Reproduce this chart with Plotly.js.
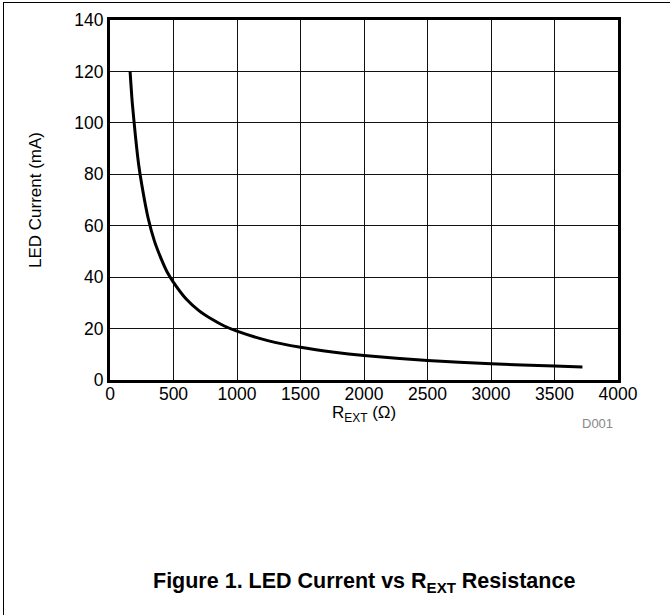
<!DOCTYPE html>
<html>
<head>
<meta charset="utf-8">
<script src="https://cdn.plot.ly/plotly-3.0.1.min.js"></script>
<style>
html,body{margin:0;padding:0;background:#fff;}
#wrap{position:relative;width:670px;height:615px;overflow:hidden;}
#chart{position:absolute;left:0;top:0;width:670px;height:615px;}
#frame{position:absolute;left:3px;top:2px;width:700px;height:700px;border-left:1.5px solid #000;border-top:1.5px solid #000;pointer-events:none;}
</style>
</head>
<body>
<div id="wrap"><div id="chart"></div><div id="frame"></div></div>
<script>
// R_EXT resistance (ohm)
const rext = [158, 175, 200, 225, 250, 300, 350, 400, 450, 500, 600, 700, 800, 900, 1000, 1250, 1500, 1750, 2000, 2500, 3000, 3500, 3720];
// LED current (mA)
const ledCurrent = [120, 108, 95, 84, 76, 63, 54, 47.5, 42, 38, 31.5, 27, 23.7, 21, 19, 15.2, 12.7, 10.9, 9.5, 7.6, 6.3, 5.4, 5.1];
const xTicks = [0, 500, 1000, 1500, 2000, 2500, 3000, 3500, 4000];
const yTicks = [0, 20, 40, 60, 80, 100, 120, 140];

const font = 'Liberation Sans, Arial, sans-serif';
const trace = {
  x: rext, y: ledCurrent, type: 'scatter', mode: 'lines',
  line: {color: '#000', width: 3, shape: 'spline', smoothing: 0.6},
  hoverinfo: 'skip'
};
const layout = {
  width: 670, height: 615,
  margin: {l: 110, r: 52, t: 20, b: 235},
  paper_bgcolor: '#fff', plot_bgcolor: '#fff',
  showlegend: false,
  font: {family: font, size: 17, color: '#000'},
  xaxis: {
    range: [0, 4000], tickvals: xTicks, ticktext: xTicks.map(String),
    showgrid: true, gridcolor: '#111', gridwidth: 1,
    showline: true, linecolor: '#000', linewidth: 3, mirror: true,
    ticks: '', ticklen: 0, ticklabelstandoff: -4, zeroline: false, fixedrange: true,
    tickfont: {family: font, size: 17.5, color: '#000'}
  },
  yaxis: {
    range: [0, 140], tickvals: yTicks, ticktext: yTicks.map(String),
    showgrid: true, gridcolor: '#111', gridwidth: 1,
    showline: true, linecolor: '#000', linewidth: 3, mirror: true,
    ticks: '', ticklen: 0, zeroline: false, fixedrange: true,
    tickfont: {family: font, size: 17.5, color: '#000'},
    title: {text: 'LED Current (mA)', font: {family: font, size: 17, color: '#000'}, standoff: 29}
  },
  annotations: [
    {text: 'R<sub>EXT</sub> (Ω)', xref: 'paper', yref: 'paper', x: 0.5, y: -0.094, xanchor: 'center', yanchor: 'middle', showarrow: false,
     font: {family: font, size: 17, color: '#000'}},
    {text: 'D001', xref: 'paper', yref: 'paper', x: 0.96, y: -0.122, xanchor: 'center', yanchor: 'middle', showarrow: false,
     font: {family: font, size: 13, color: '#888'}},
    {text: '<b>Figure 1. LED Current vs R<sub>EXT</sub> Resistance</b>', xref: 'paper', yref: 'paper', x: 0.5, y: -0.562,
     xanchor: 'center', yanchor: 'middle', showarrow: false, font: {family: font, size: 21.5, color: '#000'}}
  ]
};
Plotly.newPlot('chart', [trace], layout, {displayModeBar: false, staticPlot: true});
</script>
</body>
</html>
